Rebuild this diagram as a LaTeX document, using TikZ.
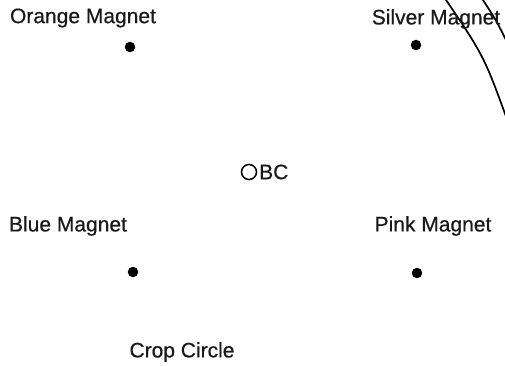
\documentclass[tikz,border=0pt]{standalone}
\usepackage{fontspec}
\setmainfont{Liberation Sans}
\begin{document}
\begin{tikzpicture}[x=1pt,y=-1pt,
  lbl/.style={font=\fontsize{21}{25}\selectfont\addfontfeature{FakeBold=0.5}, inner sep=0pt, text=black!90},
  magnet/.style={circle, fill=black, inner sep=0pt, minimum size=10.5pt},
  bcmark/.style={circle, draw=black, line width=1.5pt, inner sep=0pt, minimum size=15pt},
  edge/.style={draw=black, line width=1.7pt}]
\useasboundingbox[fill=white] (0,0) rectangle (505,366);
% crop circle edges
\coordinate (e1s) at (444,-3);
\coordinate (e1e) at (508,122);
\coordinate (e2s) at (481,-3);
\coordinate (e2e) at (508,44);
\draw[edge] (e1s) .. controls (484,56) .. (e1e);
\draw[edge] (e2s) .. controls (496,20) .. (e2e);
% labels
\node[lbl] (orange) at (83,18) {Orange Magnet};
\node[lbl] (silver) at (436,19) {Silver Magnet};
\node[lbl] (blue) at (68,226) {Blue Magnet};
\node[lbl] (pink) at (433,226) {Pink Magnet};
\node[lbl] (crop) at (182,352) {Crop Circle};
% magnets
\node[magnet] (om) at (130,47) {};
\node[magnet] (sm) at (416,45) {};
\node[magnet] (bm) at (133,272) {};
\node[magnet] (pm) at (417,273) {};
% BC
\node[bcmark] (bc) at (249,172) {};
\node[lbl, anchor=west] (bct) at (259,172) {BC};
\end{tikzpicture}
\end{document}
